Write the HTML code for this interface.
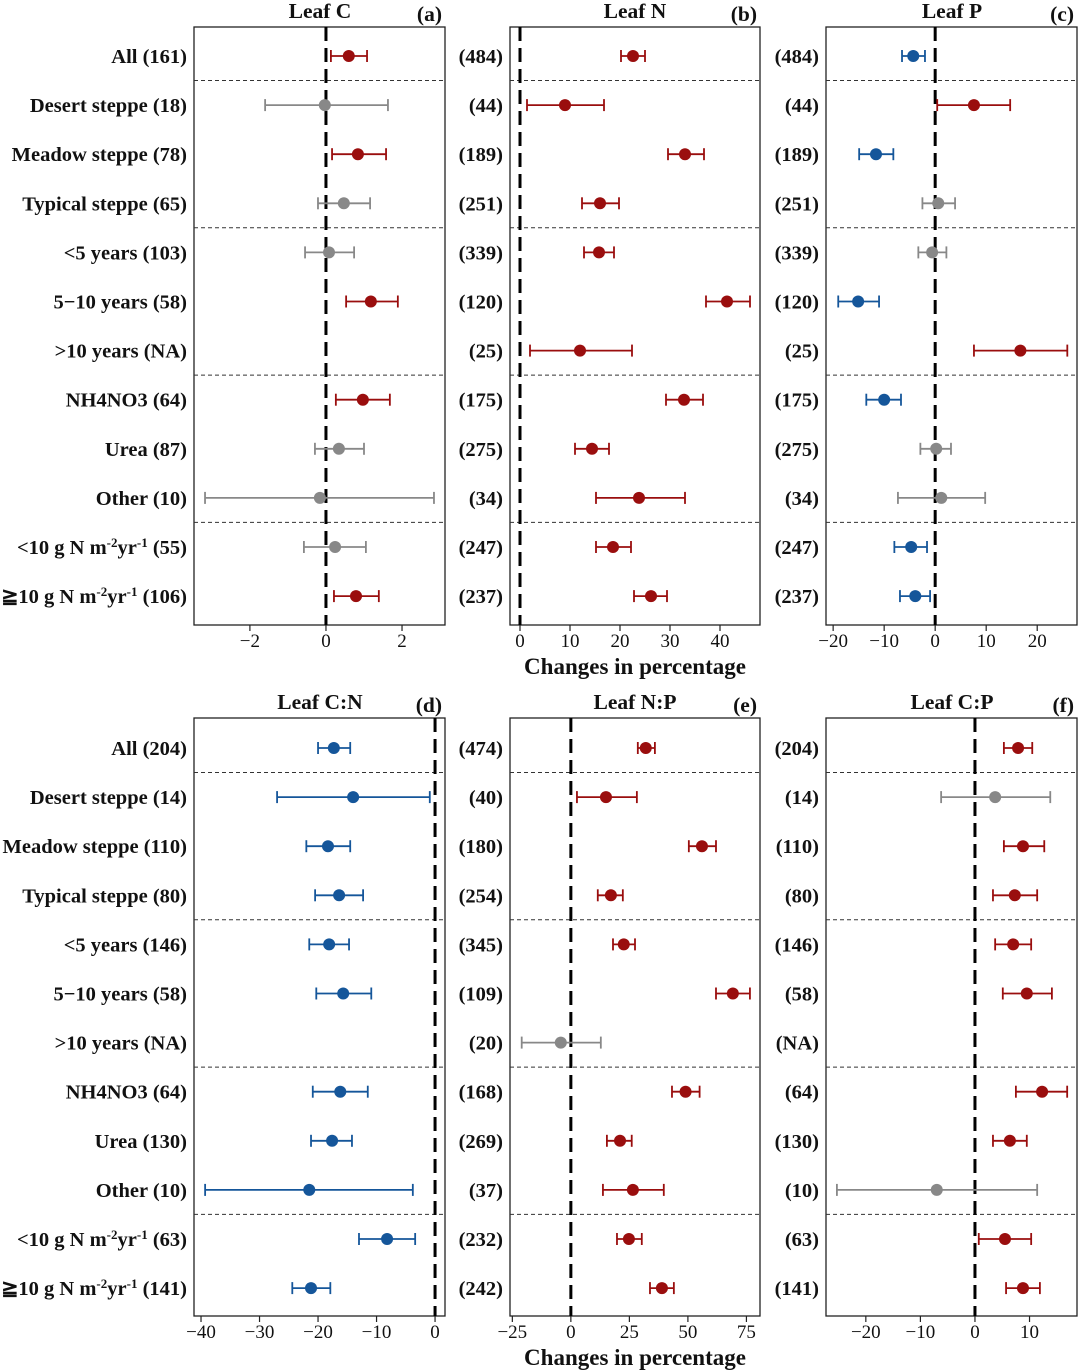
<!DOCTYPE html>
<html><head><meta charset="utf-8"><style>
html,body{margin:0;padding:0;background:#fff;}
svg{display:block;font-family:"Liberation Serif",serif;}
</style></head><body>
<svg id="chart" width="1080" height="1371" viewBox="0 0 1080 1371" xmlns="http://www.w3.org/2000/svg"></svg>
<script>
// ---- Data ----
const topLabels = ["All (161)","Desert steppe (18)","Meadow steppe (78)","Typical steppe (65)","<5 years (103)","5\u221210 years (58)","\u003e10 years (NA)","NH4NO3 (64)","Urea (87)","Other (10)","LT10|(55)","GE10|(106)"];
const botLabels = ["All (204)","Desert steppe (14)","Meadow steppe (110)","Typical steppe (80)","<5 years (146)","5\u221210 years (58)","\u003e10 years (NA)","NH4NO3 (64)","Urea (130)","Other (10)","LT10|(63)","GE10|(141)"];
const countsB = ["(484)","(44)","(189)","(251)","(339)","(120)","(25)","(175)","(275)","(34)","(247)","(237)"];
const countsC = ["(484)","(44)","(189)","(251)","(339)","(120)","(25)","(175)","(275)","(34)","(247)","(237)"];
const countsE = ["(474)","(40)","(180)","(254)","(345)","(109)","(20)","(168)","(269)","(37)","(232)","(242)"];
const countsF = ["(204)","(14)","(110)","(80)","(146)","(58)","(NA)","(64)","(130)","(10)","(63)","(141)"];
// effect, lower, upper (null = NA)
const meanA = [0.6,-0.03,0.84,0.47,0.08,1.18,null,0.97,0.34,-0.16,0.24,0.79];
const loA   = [0.13,-1.6,0.16,-0.21,-0.55,0.53,null,0.26,-0.29,-3.18,-0.58,0.21];
const hiA   = [1.08,1.63,1.58,1.16,0.74,1.89,null,1.68,1.0,2.84,1.05,1.39];
const meanB = [22.6,9,33,16,15.8,41.4,12,32.8,14.4,23.8,18.6,26.2];
const loB   = [20.2,1.4,29.6,12.4,12.8,37.2,2,29.2,11,15.2,15.2,22.8];
const hiB   = [25,16.8,36.8,19.8,18.8,46,22.4,36.6,17.8,33,22.2,29.4];
const meanC = [-4.3,7.6,-11.6,0.6,-0.6,-15.1,16.7,-10,0.2,1.2,-4.7,-3.9];
const loC   = [-6.5,0.4,-14.9,-2.5,-3.3,-19,7.6,-13.5,-2.9,-7.3,-8,-6.9];
const hiC   = [-2,14.7,-8.2,3.9,2.2,-11,25.9,-6.7,3.1,9.8,-1.6,-1];
const meanD = [-17.3,-14,-18.3,-16.4,-18.1,-15.7,null,-16.2,-17.6,-21.5,-8.2,-21.2];
const loD   = [-20,-27,-22,-20.5,-21.5,-20.3,null,-20.9,-21.2,-39.3,-13,-24.4];
const hiD   = [-14.5,-0.9,-14.5,-12.3,-14.7,-10.9,null,-11.5,-14.2,-3.8,-3.4,-17.9];
const meanE = [32,15,56,17.1,22.6,69.2,-4.3,49,21,26.5,24.8,38.9];
const loE   = [28.6,2.6,50.4,11.5,18,62,-21,43.2,15.4,13.7,19.7,33.8];
const hiE   = [35.9,28.2,62,22.2,27.4,76.5,12.8,55,26,39.7,30.3,44];
const meanF = [7.9,3.7,8.8,7.3,7,9.5,null,12.3,6.4,-7,5.5,8.8];
const loF   = [5.3,-6.2,5.3,3.3,3.7,5.1,null,7.5,3.3,-25.3,0.7,5.7];
const hiF   = [10.5,13.8,12.7,11.4,10.3,14.1,null,16.9,9.5,11.4,10.3,11.9];
const ticksA = [-2,0,2], ticksB=[0,10,20,30,40], ticksC=[-20,-10,0,10,20];
const ticksD = [-40,-30,-20,-10,0], ticksE=[-25,0,25,50,75], ticksF=[-20,-10,0,10];

const NS="http://www.w3.org/2000/svg";
const svg=document.getElementById('chart');
function el(tag,attrs,parent){const e=document.createElementNS(NS,tag);for(const k in attrs)e.setAttribute(k,attrs[k]);(parent||svg).appendChild(e);return e;}

const RED="#9a0e0e",BLUE="#15569a",GREY="#888888";
function labelText(g,x,y,lab,anchor){
  const t=el('text',{x:x,y:y,'text-anchor':anchor,'font-size':20.5,'font-weight':'bold',fill:'#111'},g);
  
  
  if(lab.indexOf('|')>=0){
    const parts=lab.split('|');
    const pre=parts[0]==='LT10'?'<10 g N m':'\u226710 g N m';
    t.appendChild(document.createTextNode(pre));
    const s1=el('tspan',{'font-size':13,dy:-7},t);s1.textContent='-2';
    const s2=el('tspan',{dy:7},t);s2.textContent='yr';
    const s3=el('tspan',{'font-size':13,dy:-7},t);s3.textContent='-1';
    const s4=el('tspan',{dy:7},t);s4.textContent=' '+parts[1];
  } else t.textContent=lab;
}

function panel(o){
  const g=el('g',{});
  
  
  const x0=o.x0,x1=o.x1,y0=o.y0,y1=o.y1;
  const sx=v=>x0+(v-o.min)/(o.max-o.min)*(x1-x0);
  const rowY=i=>o.rowStart+i*49.1;
  const fr=el('rect',{x:x0,y:y0,width:x1-x0,height:y1-y0,fill:'none',stroke:'#222','stroke-width':1.3},g);
  
  
  [0,3,6,9].forEach(k=>{
    const y=o.rowStart+24.5+k*49.1;
    const l=el('line',{x1:x0,x2:x1,y1:y,y2:y,stroke:'#333','stroke-width':1,'stroke-dasharray':'4,3'},g);
    
    
  });
  const z=el('line',{x1:sx(0),x2:sx(0),y1:y0,y2:y1,stroke:'#000','stroke-width':3,'stroke-dasharray':'14,7'},g);
  
  
  o.ticks.forEach(t=>{
    const x=sx(t);
    el('line',{x1:x,x2:x,y1:y1,y2:y1+6,stroke:'#222','stroke-width':1.2},g);
    const tl=el('text',{x:x,y:y1+22,'text-anchor':'middle','font-size':19,fill:'#111'},g);
    
    
    tl.textContent=(t<0?'\u2212'+Math.abs(t):String(t));
  });
  o.mean.forEach((m,i)=>{
    if(m===null)return;
    const lo=o.lo[i],hi=o.hi[i],y=rowY(i);
    const col=lo>0?RED:(hi<0?BLUE:GREY);
    const bg=el('g',{},g);
    
    
    el('line',{x1:sx(lo),x2:sx(hi),y1:y,y2:y,stroke:col,'stroke-width':1.8},bg);
    el('line',{x1:sx(lo),x2:sx(lo),y1:y-6,y2:y+6,stroke:col,'stroke-width':1.8},bg);
    el('line',{x1:sx(hi),x2:sx(hi),y1:y-6,y2:y+6,stroke:col,'stroke-width':1.8},bg);
    el('circle',{cx:sx(m),cy:y,r:6,fill:col},bg);
  });
  o.labels.forEach((lab,i)=>labelText(g,x0-7,rowY(i)+7,lab,'end'));
  const tt=el('text',{x:o.titleX,y:y0-9,'text-anchor':'middle','font-size':21.5,'font-weight':'bold',fill:'#111'},g);
  
  
  tt.textContent=o.title;
  const tg=el('text',{x:x1-3,y:y0-6,'text-anchor':'end','font-size':21.5,'font-weight':'bold',fill:'#111'},g);
  
  
  tg.textContent=o.tag;
}
panel({name:'panel-a-leaf-c',x0:194,x1:445,y0:27,y1:625,min:-3.47,max:3.13,rowStart:56,mean:meanA,lo:loA,hi:hiA,ticks:ticksA,labels:topLabels,title:'Leaf C',titleX:320,tag:'(a)'});
panel({name:'panel-b-leaf-n',x0:510,x1:760,y0:27,y1:625,min:-2,max:48,rowStart:56,mean:meanB,lo:loB,hi:hiB,ticks:ticksB,labels:countsB,title:'Leaf N',titleX:635,tag:'(b)'});
panel({name:'panel-c-leaf-p',x0:826,x1:1077,y0:27,y1:625,min:-21.4,max:27.8,rowStart:56,mean:meanC,lo:loC,hi:hiC,ticks:ticksC,labels:countsC,title:'Leaf P',titleX:952,tag:'(c)'});
panel({name:'panel-d-leaf-cn',x0:194,x1:445,y0:718,y1:1316,min:-41.2,max:1.7,rowStart:748,mean:meanD,lo:loD,hi:hiD,ticks:ticksD,labels:botLabels,title:'Leaf C:N',titleX:320,tag:'(d)'});
panel({name:'panel-e-leaf-np',x0:510,x1:760,y0:718,y1:1316,min:-26,max:80.8,rowStart:748,mean:meanE,lo:loE,hi:hiE,ticks:ticksE,labels:countsE,title:'Leaf N:P',titleX:635,tag:'(e)'});
panel({name:'panel-f-leaf-cp',x0:826,x1:1077,y0:718,y1:1316,min:-27.3,max:18.7,rowStart:748,mean:meanF,lo:loF,hi:hiF,ticks:ticksF,labels:countsF,title:'Leaf C:P',titleX:952,tag:'(f)'});
[[674,'x-axis-title-top'],[1365,'x-axis-title-bottom']].forEach(a=>{
  const t=el('text',{x:635,y:a[0],'text-anchor':'middle','font-size':23,'font-weight':'bold',fill:'#111'});
  
  
  t.textContent='Changes in percentage';
});
</script>
</body></html>
